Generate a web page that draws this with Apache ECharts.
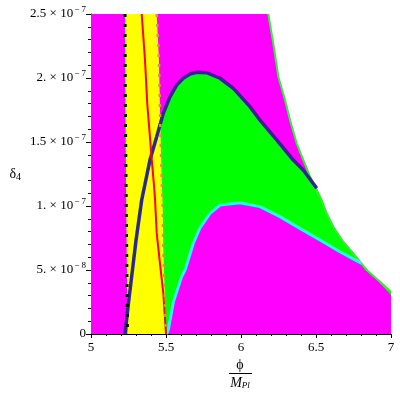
<!DOCTYPE html>
<html>
<head>
<meta charset="utf-8">
<script src="https://cdn.jsdelivr.net/npm/echarts@6/dist/echarts.min.js"></script>
<style>html,body{margin:0;padding:0;background:#fff}#main{width:400px;height:400px}</style>
</head>
<body>
<div id="main"></div>
<script>
// curves: [phi/Mpl, delta4 in units of 1e-7]
var blackLine = [[5.227,2.5],[5.229,1.8],[5.235,1.0],[5.24,0.4],[5.243,0]];
var orangeLine = [[5.438,2.5],[5.453,2.14],[5.46,1.75],[5.467,1.4],[5.473,1.16],[5.478,1.0],[5.482,0.66],[5.493,0.27],[5.497,0]];
var redLine = [[5.338,2.5],[5.36,2.14],[5.375,1.8],[5.393,1.54],[5.405,1.36],[5.42,1.16],[5.427,1.05],[5.438,0.79],[5.46,0.55],[5.482,0.32],[5.5,0]];
var navyCurve = [[5.227,0],[5.249,0.234],[5.271,0.448],[5.30,0.73],[5.338,1.047],[5.393,1.359],[5.438,1.541],[5.482,1.724],[5.527,1.854],[5.571,1.945],[5.615,1.998],[5.66,2.031],[5.705,2.045],[5.771,2.041],[5.86,1.998],[5.949,1.919],[6.06,1.776],[6.127,1.67],[6.238,1.516],[6.349,1.359],[6.415,1.281],[6.505,1.138]];
var cyanCurve = [[5.504,0],[5.515,0.03],[5.549,0.25],[5.604,0.448],[5.627,0.5],[5.682,0.709],[5.727,0.83],[5.793,0.943],[5.86,1.008],[5.993,1.026],[6.127,0.995],[6.26,0.917],[6.393,0.825],[6.527,0.734],[6.66,0.643],[6.804,0.552]];
var lowerEdge = [[6.804,0.552],[6.9,0.43],[7.0,0.305]];
var boundary = [[6.182,2.5],[6.215,2.27],[6.249,2.01],[6.293,1.83],[6.327,1.67],[6.371,1.49],[6.415,1.36],[6.46,1.23],[6.505,1.125],[6.538,1.047],[6.571,0.943],[6.616,0.838],[6.682,0.721],[6.749,0.63],[6.838,0.5],[6.927,0.409],[7.0,0.33]];
var yTickLabels = ['0', '5. \u00d7 10{s|\u2212 8}', '1. \u00d7 10{s|\u2212 7}', '1.5 \u00d7 10{s|\u2212 7}', '2. \u00d7 10{s|\u2212 7}', '2.5 \u00d7 10{s|\u2212 7}'];

var magentaRegion = [[5,0],[5,2.5]].concat(boundary).concat([[7,0]]);
var greenRegion = navyCurve.filter(function (p) { return p[0] >= 5.43; })
  .concat(boundary.filter(function (p) { return p[1] < 1.1; }))
  .concat([[7,0],[5.44,0]]);
var magentaLow = cyanCurve.concat(lowerEdge.slice(1)).concat([[7,0]]);
var yellowBand = blackLine.concat(orangeLine.slice().reverse());

function area(pts, color) {
  return {
    type: 'custom',
    silent: true,
    data: [[5,0]],
    renderItem: function (params, api) {
      return {
        type: 'polygon',
        shape: { points: pts.map(function (p) { return api.coord(p); }) },
        style: { fill: color }
      };
    }
  };
}
function curve(pts, color, width, dash) {
  return {
    type: 'line',
    data: pts,
    showSymbol: false,
    silent: true,
    z: 5,
    lineStyle: { color: color, width: width, type: dash || 'solid' }
  };
}

var chart = echarts.init(document.getElementById('main'));
var font = 'Liberation Serif';
chart.setOption({
  animation: false,
  grid: { left: 91, right: 9, top: 14, bottom: 66 },
  xAxis: {
    type: 'value', min: 5, max: 7, interval: 0.5,
    splitLine: { show: false },
    axisLine: { lineStyle: { color: '#000' } },
    axisTick: { length: 4, lineStyle: { color: '#000' } },
    minorTick: { show: true, splitNumber: 5, length: 2, lineStyle: { color: '#000' } },
    axisLabel: { color: '#000', fontFamily: font, fontSize: 13, margin: 7 }
  },
  yAxis: {
    type: 'value', min: 0, max: 2.5, interval: 0.5,
    splitLine: { show: false },
    axisLine: { show: true, lineStyle: { color: '#000' } },
    axisTick: { show: true, length: 5, lineStyle: { color: '#000' } },
    minorTick: { show: true, splitNumber: 5, length: 3, lineStyle: { color: '#000' } },
    axisLabel: {
      color: '#000', fontFamily: font, fontSize: 13, margin: 5,
      formatter: function (v) { return yTickLabels[Math.round(v / 0.5)]; },
      rich: { s: { fontFamily: font, fontSize: 9, padding: [0, 0, 9, 1], color: '#000' } }
    },
    name: '{d|\u03b4}{n|4}', nameLocation: 'middle', nameRotate: 0, nameGap: 70,
    nameTextStyle: {
      rich: {
        d: { fontFamily: font, fontSize: 14, color: '#000' },
        n: { fontFamily: font, fontSize: 10, color: '#000', padding: [6, 0, 0, 0] }
      }
    }
  },
  graphic: [
    { type: 'text', x: 240, y: 365, style: { text: '\u03d5', font: '14px "Liberation Serif"', fill: '#000', align: 'center', verticalAlign: 'middle' } },
    { type: 'line', shape: { x1: 229, y1: 373.5, x2: 252, y2: 373.5 }, style: { stroke: '#000', lineWidth: 1 } },
    { type: 'text', x: 240, y: 383, style: {
      text: '{m|M}{p|Pl}', align: 'center', verticalAlign: 'middle',
      rich: {
        m: { font: 'italic 14px "Liberation Serif"', fill: '#000' },
        p: { font: 'italic 9px "Liberation Serif"', fill: '#000', padding: [6, 0, 0, 0] }
      }
    } }
  ],
  series: [
    area(magentaRegion, '#ff00ff'),
    area(greenRegion, '#00ff00'),
    area(magentaLow, '#ff00ff'),
    area(yellowBand, '#ffff00'),
    curve(boundary, '#33ee33', 2),
    curve(cyanCurve, '#33eeff', 3),
    curve(navyCurve, '#2a2a8c', 3.5),
    curve(redLine, '#ff0000', 2),
    curve(blackLine, '#000000', 3, [3, 7]),
    curve(orangeLine, '#cc9944', 2.5, [3, 7])
  ]
});
</script>
</body>
</html>
